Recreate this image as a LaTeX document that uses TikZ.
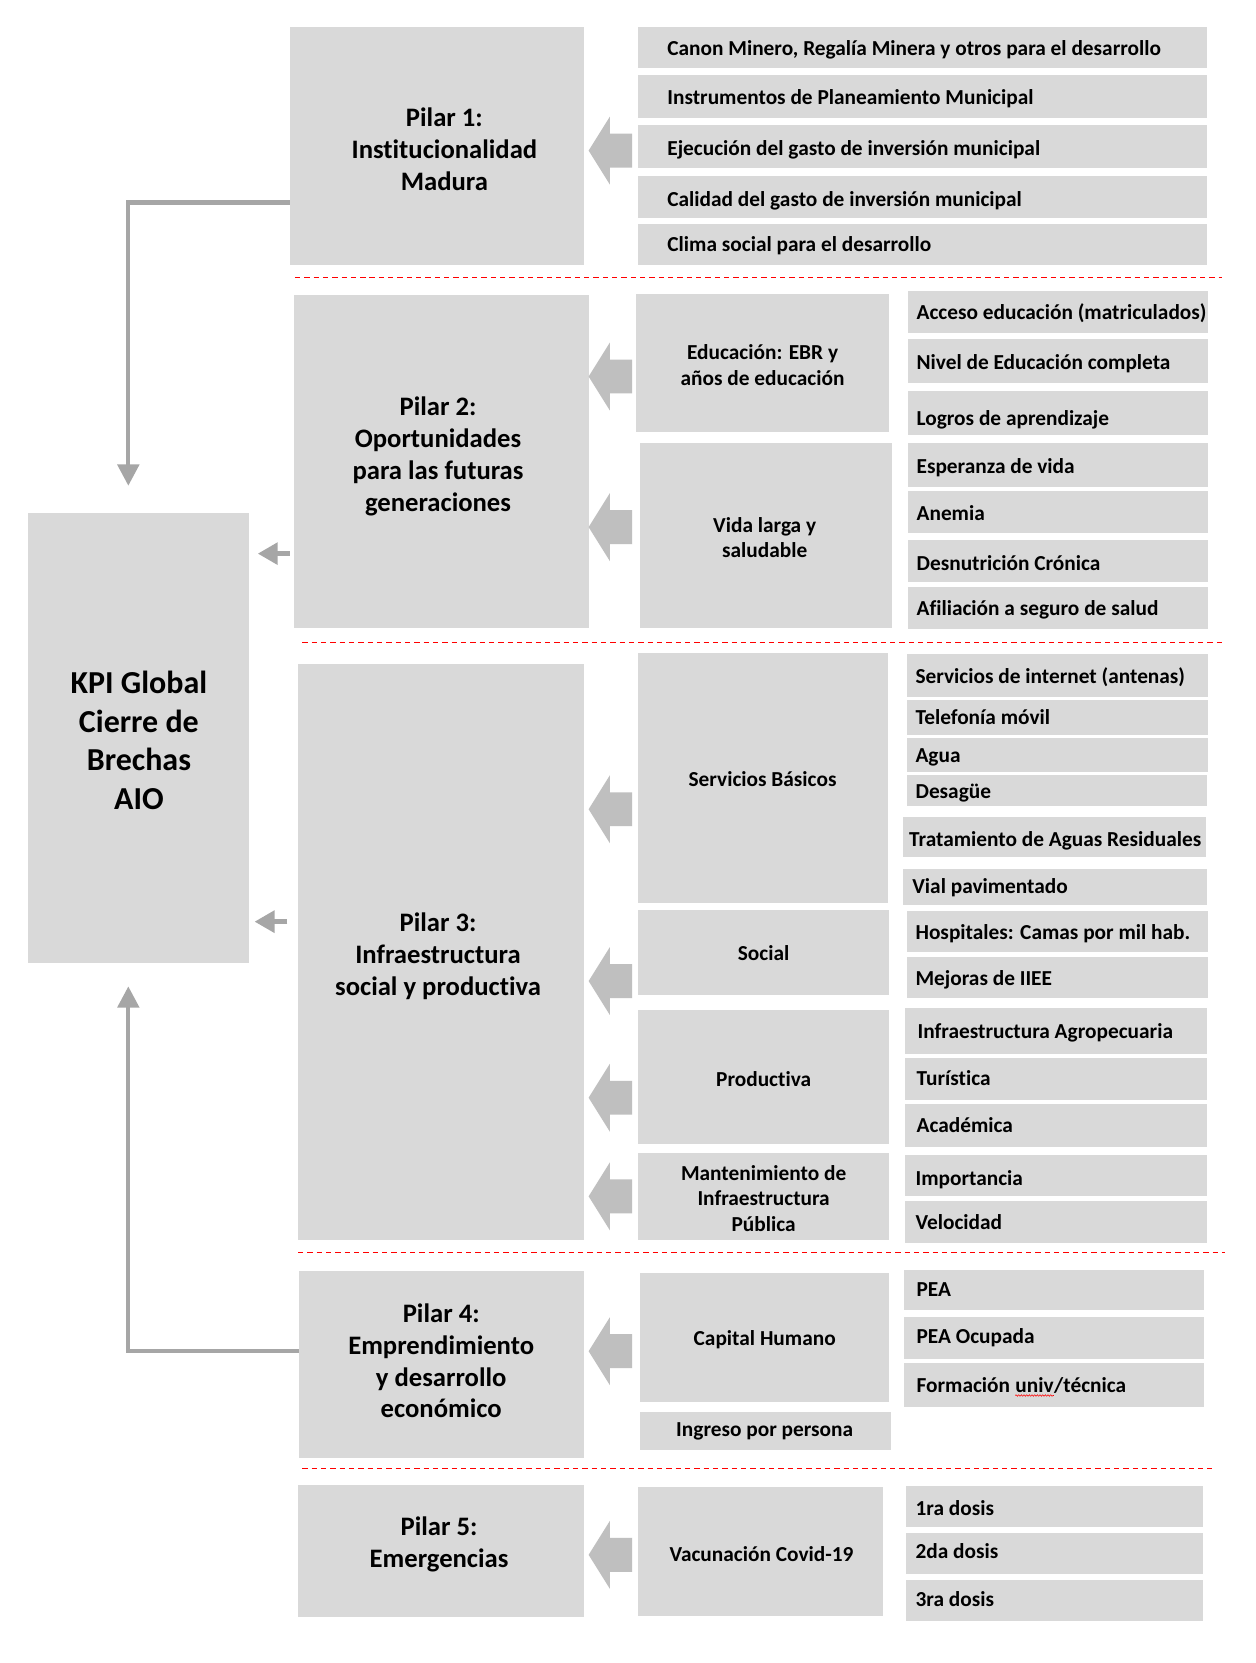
\documentclass[tikz,border=0pt]{standalone}
\usepackage{fontspec}
\setmainfont{Carlito}[Ligatures={TeX,NoCommon}]
\usetikzlibrary{arrows.meta,decorations.pathmorphing}
\definecolor{boxgray}{HTML}{D9D9D9}
\definecolor{arrgray}{HTML}{BFBFBF}
\definecolor{lingray}{HTML}{A6A6A6}
\newcommand\gbox[5]{\node[gbox, minimum width={(#4-#2)*0.7956pt}, minimum height={(#5-#3)*0.7956pt}] (#1) at ({(#2+#4)/2},{(#3+#5)/2}) {};}
\newcommand\itm[8]{\gbox{#1}{#2}{#3}{#4}{#5}\node[itxt] (#1t) at (#6,{#7+7.5}) {#8};}
\newcommand\barr[1]{\fill[barrow] (555,#1) -- (575,{#1-32}) -- (575,{#1-16}) -- (596,{#1-16}) -- (596,{#1+16}) -- (575,{#1+16}) -- (575,{#1+32}) -- cycle;}
\begin{document}
\begin{tikzpicture}[x=0.7956pt, y=-0.7956pt,
 gbox/.style={fill=boxgray, draw=none, inner sep=0, outer sep=0},
 itxt/.style={anchor=base west, inner sep=0, font=\bfseries\fontsize{16}{19.2}\selectfont},
 ctxt/.style={align=center, inner sep=0, font=\bfseries\fontsize{16}{19.2}\selectfont},
 ptxt/.style={align=center, inner sep=0, font=\bfseries\fontsize{20}{24}\selectfont},
 ktxt/.style={align=center, inner sep=0, font=\bfseries\fontsize{24}{29}\selectfont},
 conn/.style={draw=lingray, line width=3.2pt, -{Triangle[width=16pt,length=16pt]}},
 sconn/.style={draw=lingray, line width=3.7pt, -{Triangle[width=16pt,length=15pt]}},
 sepline/.style={draw=red, line width=0.8pt, dash pattern=on 4pt off 3pt},
 barrow/.style={fill=arrgray, draw=none}]
\fill[white] (0,0) rectangle (1184,1568);
\useasboundingbox (0,0) rectangle (1184,1568);

% KPI
\gbox{kpi}{26}{484}{235}{908}
\node[ktxt] (kpit) at (131,698) {KPI Global\\Cierre de\\Brechas\\AIO};

% Pilar 1
\gbox{p1}{273}{25}{551}{250}
\node[ptxt] (p1t) at (419,141) {Pilar 1:\\Institucionalidad\\Madura};
\itm{i11}{602}{25}{1138}{64}{629}{45}{Canon Minero, Regalía Minera y otros para el desarrollo}
\itm{i12}{602}{71}{1138}{111}{629}{91}{Instrumentos de Planeamiento Municipal}
\itm{i13}{602}{118}{1138}{158}{629}{139}{Ejecución del gasto de inversión municipal}
\itm{i14}{602}{166}{1138}{206}{629}{187}{Calidad del gasto de inversión municipal}
\itm{i15}{602}{211}{1138}{250}{629}{230}{Clima social para el desarrollo}
\barr{142}

\draw[sepline] (278,262) -- (1152,262);

% Pilar 2
\gbox{p2}{277}{278}{555}{592}
\node[ptxt] (p2t) at (413,430) {Pilar 2:\\Oportunidades\\para las futuras\\generaciones};
\gbox{edu}{600}{277}{838}{407}
\node[ctxt] (edut) at (719,344) {Educación: EBR y\\años de educación};
\gbox{vida}{603}{418}{841}{592}
\node[ctxt] (vidat) at (721,507) {Vida larga y\\saludable};
\itm{i21}{856}{274}{1139}{314}{864}{294}{Acceso educación (matriculados)}
\itm{i22}{856}{320}{1139}{361}{864}{341}{Nivel de Educación completa}
\itm{i23}{856}{369}{1139}{410}{864}{394}{Logros de aprendizaje}
\itm{i24}{856}{418}{1139}{459}{864}{439}{Esperanza de vida}
\itm{i25}{856}{463}{1139}{503}{864}{483}{Anemia}
\itm{i26}{856}{509}{1139}{549}{864}{530}{Desnutrición Crónica}
\itm{i27}{856}{553}{1139}{593}{864}{573}{Afiliación a seguro de salud}
\barr{355}
\barr{497}

\draw[sepline] (285,606) -- (1152,606);

% Pilar 3
\gbox{p3}{281}{626}{551}{1169}
\node[ptxt] (p3t) at (413,902) {Pilar 3:\\Infraestructura\\social y productiva};
\gbox{sb}{602}{616}{837}{851}
\node[ctxt] (sbt) at (719,735) {Servicios Básicos};
\gbox{soc}{602}{858}{838}{938}
\node[ctxt] (soct) at (720,899) {Social};
\gbox{prod}{602}{952}{838}{1079}
\node[ctxt] (prodt) at (720,1017) {Productiva};
\gbox{mant}{602}{1087}{838}{1169}
\node[ctxt] (mantt) at (720,1130) {Mantenimiento de\\Infraestructura\\Pública};
\itm{i31}{855}{617}{1139}{657}{863}{637}{Servicios de internet (antenas)}
\itm{i32}{855}{660}{1139}{693}{863}{676}{Telefonía móvil}
\itm{i33}{855}{696}{1139}{728}{863}{711}{Agua}
\itm{i34}{855}{731}{1138}{760}{863}{745}{Desagüe}
\itm{i35}{851}{770}{1137}{808}{857}{791}{Tratamiento de Aguas Residuales}
\itm{i36}{851}{819}{1138}{853}{860}{835}{Vial pavimentado}
\itm{i37}{855}{859}{1139}{898}{863}{878}{Hospitales: Camas por mil hab.}
\itm{i38}{855}{902}{1139}{941}{863}{922}{Mejoras de IIEE}
\itm{i39}{853}{950}{1138}{994}{865}{972}{Infraestructura Agropecuaria}
\itm{i3a}{853}{998}{1138}{1037}{864}{1016}{Turística}
\itm{i3b}{853}{1041}{1138}{1081}{864}{1060}{Académica}
\itm{i3c}{853}{1089}{1138}{1128}{863}{1110}{Importancia}
\itm{i3d}{853}{1132}{1138}{1172}{863}{1152}{Velocidad}
\barr{763}
\barr{925}
\barr{1035}
\barr{1128}

\draw[sepline] (281,1181) -- (1155,1181);

% Pilar 4
\gbox{p4}{282}{1198}{551}{1375}
\node[ptxt] (p4t) at (416,1283) {Pilar 4:\\Emprendimiento\\y desarrollo\\económico};
\gbox{cap}{603}{1200}{838}{1322}
\node[ctxt] (capt) at (721,1263) {Capital Humano};
\gbox{ing}{603}{1331}{840}{1367}
\node[ctxt] (ingt) at (721,1350) {Ingreso por persona};
\itm{i41}{852}{1197}{1135}{1235}{864}{1215}{PEA}
\itm{i42}{852}{1242}{1135}{1281}{864}{1259}{PEA Ocupada}
\gbox{i43}{852}{1285}{1135}{1327}
\node[itxt] (i43a) at (864,1312.5) {Formación};
\node[itxt, xshift=3.6pt] (i43b) at (i43a.base east) {univ};
\node[itxt] (i43c) at (i43b.base east) {/técnica};
\draw[red, line width=0.4pt, decorate, decoration={snake, amplitude=0.6pt, segment length=2pt}] ([yshift=-2.6pt]i43b.base west) -- ([yshift=-2.6pt]i43b.base east);
\barr{1274}

\draw[sepline] (285,1385) -- (1143,1385);

% Pilar 5
\gbox{p5}{281}{1400}{551}{1525}
\node[ptxt] (p5t) at (414,1456) {Pilar 5:\\Emergencias};
\gbox{vac}{602}{1402}{833}{1524}
\node[ctxt] (vact) at (718,1465) {Vacunación Covid-19};
\itm{i51}{854}{1401}{1134}{1440}{863}{1421}{1ra dosis}
\itm{i52}{854}{1445}{1134}{1484}{863}{1462}{2da dosis}
\itm{i53}{854}{1490}{1134}{1528}{863}{1507}{3ra dosis}
\barr{1466}

% connectors to KPI
\coordinate (k1) at (121,458);
\coordinate (k4) at (121,930);
\coordinate (k2) at (243,522);
\coordinate (k3) at (240,869);
\draw[conn] (p1.west |- 0,191) -| (k1);
\draw[conn] (p4.west |- 0,1274) -| (k4);
\draw[sconn, shorten <=3pt] (p2.west |- k2) -- (k2);
\draw[sconn, shorten <=8pt] (p3.west |- k3) -- (k3);
\end{tikzpicture}
\end{document}
